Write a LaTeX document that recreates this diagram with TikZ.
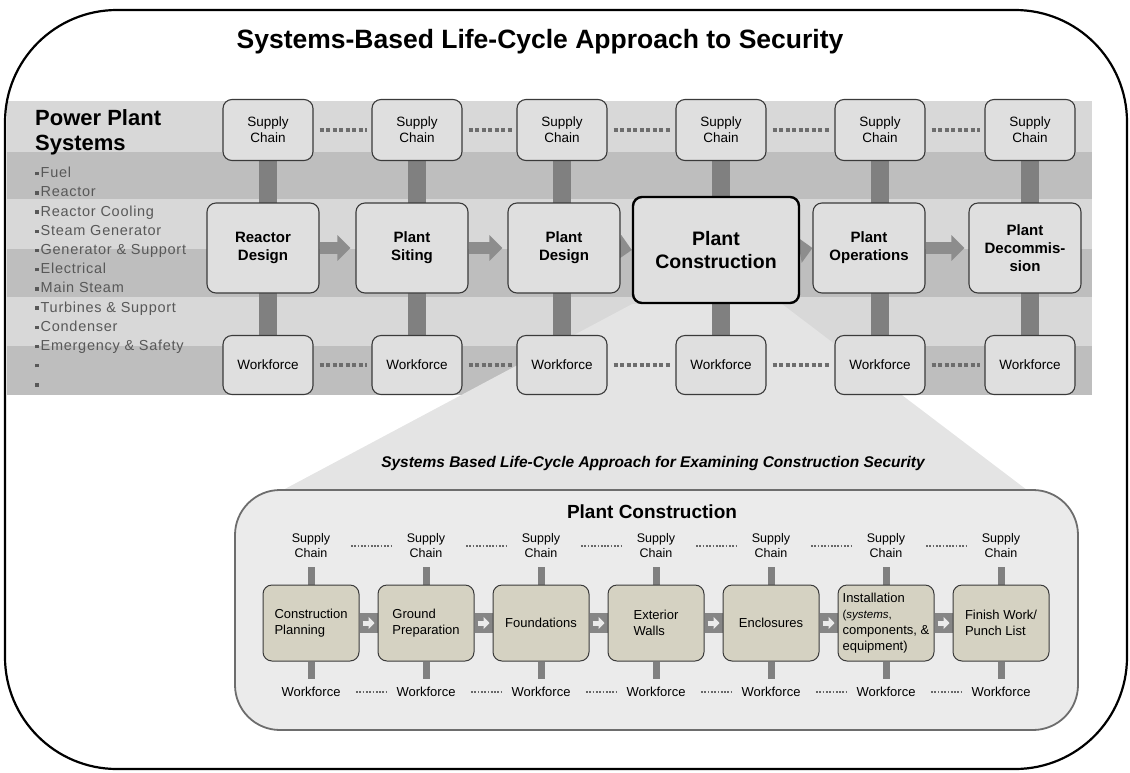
\documentclass[tikz,border=0pt]{standalone}
\usepackage{fontspec}
\setmainfont{Liberation Sans}
\usetikzlibrary{positioning,arrows.meta,calc,backgrounds}
\definecolor{cBandA}{HTML}{D8D8D8}
\definecolor{cBandB}{HTML}{BEBEBE}
\definecolor{cBox}  {HTML}{DFDFDF}
\definecolor{cLine} {HTML}{3A3A3A}
\definecolor{cBar}  {HTML}{808080}
\definecolor{cZoom} {HTML}{E4E4E4}
\definecolor{cPanel}{HTML}{EBEBEB}
\definecolor{cStep} {HTML}{D5D2C2}
\definecolor{cText} {HTML}{585858}
\pgfdeclarelayer{back}
\pgfdeclarelayer{mid}
\pgfsetlayers{back,mid,main}
\newcommand{\fsz}[2]{\fontsize{#1}{#2}\selectfont}
\newcommand{\sqbullet}{\raisebox{0.3ex}{\rule{3.5pt}{3.5pt}}\kern2pt}

\begin{document}
\begin{tikzpicture}[x=1pt,y=-1pt,
    sbox/.style={draw=cLine,fill=cBox,rounded corners=9pt,line width=1.1pt,
      minimum width=90pt,minimum height=61pt,inner sep=0pt,align=center,
      font=\fsz{13.5}{16}},
    wbox/.style={sbox,minimum height=59pt},
    mbox/.style={sbox,minimum width=112pt,minimum height=90pt,font=\bfseries\fsz{15}{18}},
    bar/.style={line width=18pt,cBar},
    flow/.style={line width=12pt,cBar!90!white,-{Triangle[length=13pt,width=25pt]}},
    dots/.style={line width=3.5pt,cBar!85!black,dash pattern=on 4pt off 2.5pt,
      shorten <=6pt,shorten >=4pt},
    lbl/.style={inner sep=0pt,align=center,font=\fsz{12.5}{15}},
    stepbox/.style={draw=cLine,fill=cStep,rounded corners=9pt,line width=1pt,
      minimum width=96pt,minimum height=76pt,inner sep=0pt,align=left,
      font=\fsz{13}{16}},
    stepband/.style={line width=20pt,cBar!95!white},
    steparrow/.style={line width=5pt,cPanel,-{Triangle[length=6pt,width=12pt]},
      shorten <=3pt,shorten >=3pt},
    tbar/.style={line width=7pt,cBar},
    tdots/.style={line width=1.7pt,cBar!80!black,dash pattern=on 1.7pt off 1.6pt}]
\useasboundingbox (0,0) rectangle (1130,772);

% title and system list
\node[font=\bfseries\fsz{26.5}{30}] (title) at (540,42)
  {Systems-Based Life-Cycle Approach to Security};
\node[anchor=north west,inner sep=0pt,align=left,font=\bfseries\fsz{22}{25}]
  (pps) at (35,109) {Power Plant\\Systems};
\node[anchor=north west,inner sep=0pt,align=left,text=cText,
  font=\fsz{14.5}{19.2}\addfontfeatures{LetterSpace=5}]
  (sys) at (35,167) {\sqbullet Fuel\\\sqbullet Reactor\\\sqbullet Reactor Cooling\\
  \sqbullet Steam Generator\\\sqbullet Generator \& Support\\\sqbullet Electrical\\
  \sqbullet Main Steam\\\sqbullet Turbines \& Support\\\sqbullet Condenser\\
  \sqbullet Emergency \& Safety\\\sqbullet\\\sqbullet};

% life-cycle row
\foreach \i/\x in {1/268,2/417,3/562,4/721,5/880,6/1030}{
  \node[sbox] (sc\i) at (\x,130) {Supply\\Chain};
  \node[wbox] (wf\i) at (\x,365) {Workforce};
}
\node[mbox] (m1) at (263,248) {Reactor\\Design};
\node[mbox] (m2) at (412,248) {Plant\\Siting};
\node[mbox] (m3) at (564,248) {Plant\\Design};
\node[mbox,minimum width=166pt,minimum height=106pt,draw=black,line width=2.4pt,
  font=\bfseries\fsz{19.5}{23}] (m4) at (716,250) {Plant\\Construction};
\node[mbox] (m5) at (869,248) {Plant\\Operations};
\node[mbox] (m6) at (1025,248) {Plant\\Decommis-\\sion};

% construction phase
\node[font=\bfseries\itshape\fsz{15.5}{18}] (sub) at (653,463)
  {Systems Based Life-Cycle Approach for Examining Construction Security};
\node[font=\bfseries\fsz{19}{22}] (pct) at (652,512) {Plant Construction};
\foreach \i/\x/\t in {1/311/{Construction\\Planning},2/426/{Ground\\Preparation},
    3/541/{Foundations},4/656/{Exterior\\Walls},5/771/{Enclosures},
    6/886/{Installation\\\fsz{11.5}{13.5}(\textit{systems},\\components, \&\\equipment)},
    7/1001/{Finish Work/\\Punch List}}{
  \node[lbl] (ls\i) at (\x,546) {Supply\\Chain};
  \node[stepbox] (st\i) at (\x,623) {\t};
  \node[lbl,font=\fsz{13}{16}] (lw\i) at (\x,692) {Workforce};
}
\foreach \a/\b in {1/2,2/3,3/4,4/5,5/6,6/7}
  \draw[steparrow] (st\a.east) -- (st\b.west);

\begin{pgfonlayer}{mid}
  \foreach \i in {1,...,6}
    \draw[bar] (sc\i) -- (wf\i);
  \foreach \a/\b/\s in {1/2/5,2/3/5,3/4/0,4/5/0,5/6/4}
    \draw[flow,shorten >=\s pt] (m\a.east) -- (m\b.west);
  \foreach \a/\b in {1/2,2/3,3/4,4/5,5/6}{
    \draw[dots] (sc\a.east) -- (sc\b.west);
    \draw[dots] (wf\a.east) -- (wf\b.west);
  }
  \foreach \i in {1,...,7}{
    \draw[tbar,shorten <=9pt] (ls\i.south) -- (st\i.north);
    \draw[tbar,shorten >=8pt] (st\i.south) -- (lw\i.north);
  }
  \foreach \a/\b in {1/2,2/3,3/4,4/5,5/6,6/7}{
    \draw[stepband] (st\a.east) -- (st\b.west);
    \draw[tdots,shorten <=40pt,shorten >=35pt] (ls\a.center) -- (ls\b.center);
    \draw[tdots,shorten <=45pt,shorten >=38pt] (lw\a.center) -- (lw\b.center);
  }
\end{pgfonlayer}

\begin{pgfonlayer}{back}
  \foreach \ya/\yb/\c in {101/152/cBandA,152/199/cBandB,199/249/cBandA,
      249/297/cBandB,297/346/cBandA,346/395/cBandB}
    \fill[\c] (7,\ya) rectangle (1092,\yb);
  \coordinate (zl) at (283,490);
  \coordinate (zr) at (1027,490);
  \fill[cZoom] (m4.south west) -- (zl) -- (zr) -- ($(m4.south east)+(-18,0)$) -- cycle;
  \draw[draw=cBar!85!black,fill=cPanel,line width=1.8pt,rounded corners=45pt]
    (235,490) rectangle (1078,730);
\end{pgfonlayer}

% outer frame
\draw[line width=2.2pt,rounded corners=112pt] (5,10) rectangle (1127,769);
\end{tikzpicture}
\end{document}
